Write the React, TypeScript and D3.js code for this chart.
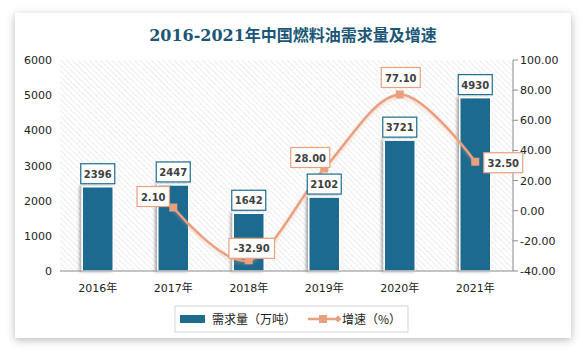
import React from "react";
import * as d3 from "d3";

const categories = ["2016年", "2017年", "2018年", "2019年", "2020年", "2021年"];
const demand = [2396, 2447, 1642, 2102, 3721, 4930];
const growth: (number | null)[] = [null, 2.1, -32.9, 28.0, 77.1, 32.5];
const leftTicks = [0, 1000, 2000, 3000, 4000, 5000, 6000];
const rightTicks = [-40, -20, 0, 20, 40, 60, 80, 100];
// label offsets for growth labels (dx, dy) relative to point
const growthLabelOffset: [number, number][] = [
  [0, 0],
  [-20, -11],
  [3, -12],
  [-14, -11],
  [1, -17],
  [28, 1],
];

const W = 583;
const H = 352;
const plot = { left: 60, right: 513, top: 60, bottom: 271 };
const BAR = "#1e6b8f";
const LINE = "#e9a07f";
const TITLE = "#1b5676";

export default function App() {
  const x = d3
    .scaleBand<string>()
    .domain(categories)
    .range([plot.left, plot.right])
    .paddingInner(0)
    .paddingOuter(0);
  const yL = d3.scaleLinear().domain([0, 6000]).range([plot.bottom, plot.top]);
  const yR = d3.scaleLinear().domain([-40, 100]).range([plot.bottom, plot.top]);
  const cx = (c: string) => (x(c) as number) + x.bandwidth() / 2;
  const barW = 31;

  const pts = categories
    .map((c, i) => ({ c, i, v: growth[i] }))
    .filter((d) => d.v !== null) as { c: string; i: number; v: number }[];
  const line = d3
    .line<{ c: string; v: number }>()
    .x((d) => cx(d.c))
    .y((d) => yR(d.v))
    .curve(d3.curveCardinal.tension(0));

  const textW = (s: string, per: number) => s.length * per;

  return (
    <svg width={W} height={H} style={{ position: "absolute", left: 0, top: 0 }}>
      <defs>
        <pattern id="hatch" width="4" height="4" patternUnits="userSpaceOnUse" patternTransform="rotate(-45)">
          <rect width="4" height="4" fill="#ffffff" />
          <line x1="0" y1="0" x2="0" y2="4" stroke="#cfcfcf" strokeWidth="1" strokeDasharray="1.5 0.8" />
        </pattern>
        <filter id="cardShadow" x="-10%" y="-10%" width="120%" height="120%">
          <feDropShadow dx="0" dy="2" stdDeviation="4" floodColor="#000" floodOpacity="0.28" />
        </filter>
        <filter id="barShadow" x="-30%" y="-10%" width="160%" height="120%">
          <feDropShadow dx="-2" dy="0" stdDeviation="1.5" floodColor="#000" floodOpacity="0.35" />
        </filter>
        <filter id="lineShadow" x="-10%" y="-20%" width="120%" height="140%">
          <feDropShadow dx="0" dy="2" stdDeviation="1.5" floodColor="#e9a07f" floodOpacity="0.4" />
        </filter>
      </defs>
      <rect x={0} y={0} width={W} height={H} fill="#ffffff" />
      <rect x={15} y={13} width={556} height={325} fill="#ffffff" filter="url(#cardShadow)" />
      <text
        x={293}
        y={41}
        textAnchor="middle"
        fontFamily="'DejaVu Serif', 'Noto Sans CJK SC', serif"
        fontWeight="bold"
        fontSize={16}
        fill={TITLE}
      >
        2016-2021年中国燃料油需求量及增速
      </text>

      <rect
        x={plot.left}
        y={plot.top}
        width={plot.right - plot.left}
        height={plot.bottom - plot.top}
        fill="url(#hatch)"
      />

      {/* left ticks */}
      {leftTicks.map((t) => (
        <text
          key={"l" + t}
          x={52}
          y={yL(t) + 4}
          textAnchor="end"
          fontFamily="'DejaVu Sans', sans-serif"
          fontSize={11}
          fill="#222"
        >
          {t}
        </text>
      ))}
      {/* right axis */}
      <line x1={plot.right} x2={plot.right} y1={plot.top} y2={plot.bottom} stroke="#8a8a8a" />
      {rightTicks.map((t) => (
        <g key={"r" + t}>
          <line x1={plot.right} x2={plot.right + 5} y1={yR(t)} y2={yR(t)} stroke="#8a8a8a" />
          <text
            x={plot.right + 7}
            y={yR(t) + 4}
            textAnchor="start"
            fontFamily="'DejaVu Sans', sans-serif"
            fontSize={11}
            fill="#222"
          >
            {t.toFixed(2)}
          </text>
        </g>
      ))}

      {/* bars */}
      {categories.map((c, i) => {
        const top = yL(demand[i]);
        return (
          <rect
            key={"b" + c}
            x={cx(c) - barW / 2}
            y={top}
            width={barW}
            height={plot.bottom - top}
            fill={BAR}
            stroke="#ffffff"
            strokeWidth={1.5}
            filter="url(#barShadow)"
          />
        );
      })}

      {/* baseline */}
      <line x1={plot.left} x2={plot.right} y1={plot.bottom} y2={plot.bottom} stroke="#8a8a8a" />

      {/* x labels */}
      {categories.map((c) => (
        <text
          key={"x" + c}
          x={cx(c)}
          y={292}
          textAnchor="middle"
          fontFamily="'DejaVu Sans', 'Noto Sans CJK SC', sans-serif"
          fontSize={11}
          fill="#222"
        >
          {c}
        </text>
      ))}

      {/* line */}
      <path d={line(pts) || ""} fill="none" stroke={LINE} strokeWidth={2.5} filter="url(#lineShadow)" />
      {pts.map((d) => (
        <rect key={"m" + d.c} x={cx(d.c) - 4} y={yR(d.v) - 4} width={8} height={8} fill={LINE} />
      ))}

      {/* bar value labels */}
      {categories.map((c, i) => {
        const s = String(demand[i]);
        const w = textW(s, 7) + 6;
        const top = yL(demand[i]);
        const bh = 20;
        const by = top - 3 - bh;
        return (
          <g key={"bl" + c}>
            <rect x={cx(c) - w / 2} y={by} width={w} height={bh} fill="#fff" stroke="#1e6b8f" strokeWidth={1.2} />
            <text
              x={cx(c)}
              y={by + 14}
              textAnchor="middle"
              fontFamily="'DejaVu Sans', sans-serif"
              fontWeight="bold"
              fontSize={10}
              fill="#404040"
            >
              {s}
            </text>
          </g>
        );
      })}

      {/* growth labels */}
      {pts.map((d) => {
        const s = d.v.toFixed(2);
        const w = textW(s, 6.6) + 6;
        const [dx, dy] = growthLabelOffset[d.i];
        const lx = cx(d.c) + dx;
        const ly = yR(d.v) + dy;
        return (
          <g key={"gl" + d.c}>
            <rect x={lx - w / 2} y={ly - 10} width={w} height={20} fill="#fff" stroke={LINE} strokeWidth={1.2} />
            <text
              x={lx}
              y={ly + 4}
              textAnchor="middle"
              fontFamily="'DejaVu Sans', sans-serif"
              fontWeight="bold"
              fontSize={10}
              fill="#404040"
            >
              {s}
            </text>
          </g>
        );
      })}

      {/* legend */}
      <rect x={175} y={306} width={233} height={26} fill="#fff" stroke="#d4d4d4" />
      <rect x={180} y={315} width={25} height={8} fill={BAR} />
      <text x={212} y={323.5} fontFamily="'Noto Sans CJK SC', sans-serif" fontSize={12} fill="#222">
        需求量（万吨）
      </text>
      <line x1={308} x2={338} y1={319} y2={319} stroke={LINE} strokeWidth={2.5} />
      <rect x={319} y={315} width={8} height={8} fill={LINE} />
      <path d="M338,315.5 L341.5,319 L338,322.5 L334.5,319 Z" fill={LINE} />
      <text x={342} y={323.5} fontFamily="'Noto Sans CJK SC', sans-serif" fontSize={12} fill="#222">
        增速（%）
      </text>
    </svg>
  );
}
